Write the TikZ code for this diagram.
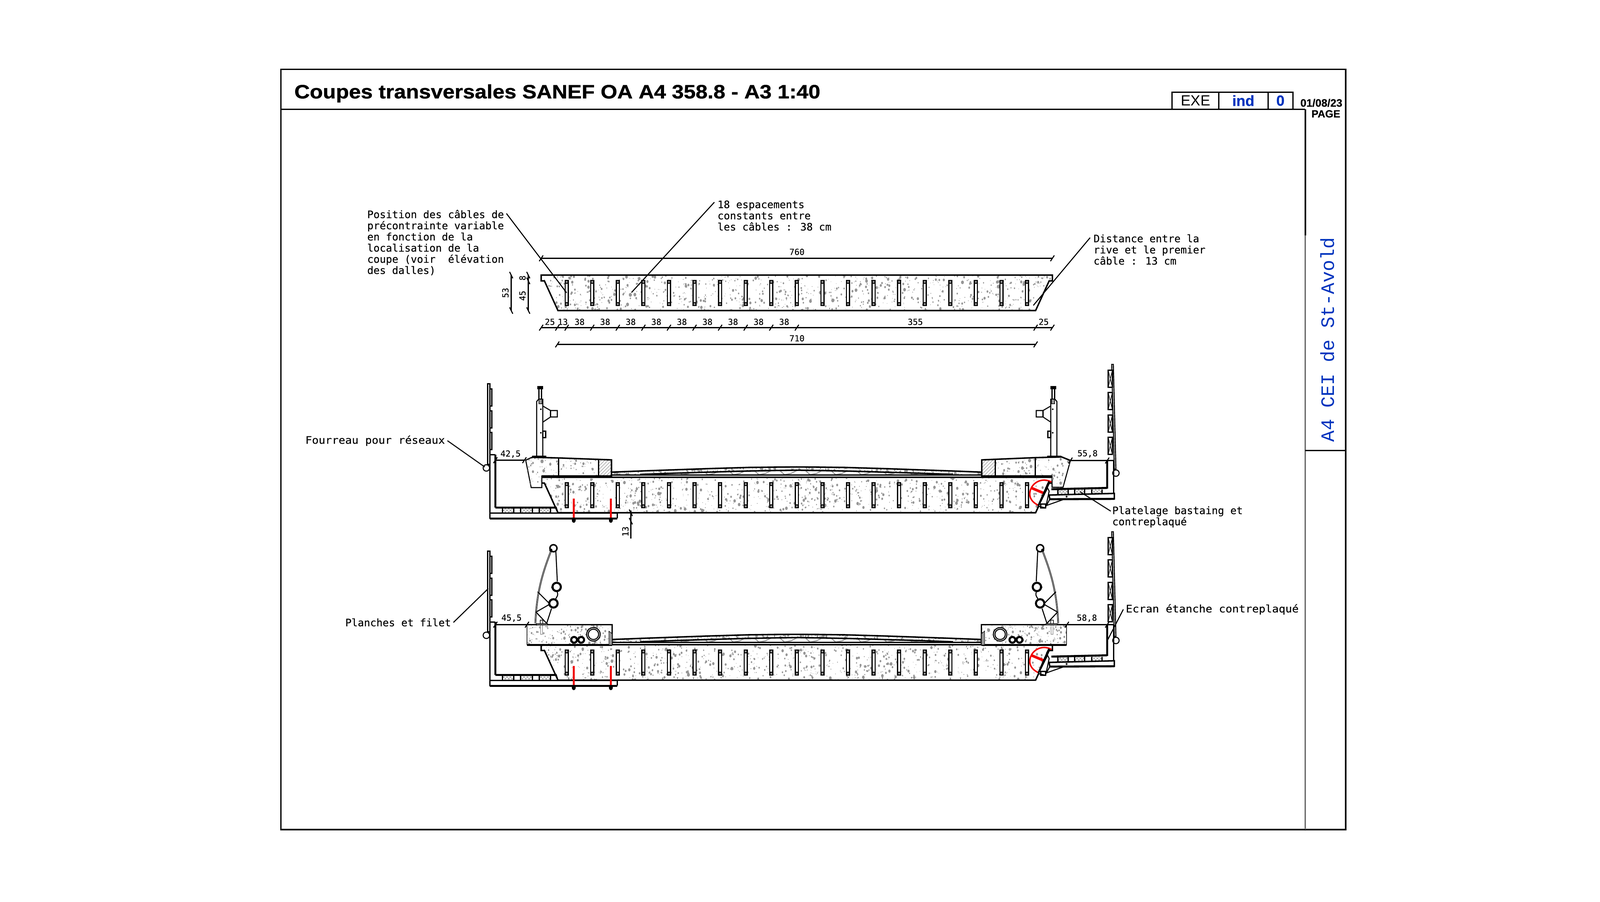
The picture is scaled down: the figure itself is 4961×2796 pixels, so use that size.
\documentclass[tikz,border=0pt]{standalone}
\usepackage{fontspec}
\setmainfont[BoldFeatures={FakeBold=0.8}]{Liberation Sans}
\newfontfamily\titrefont[BoldFeatures={FakeStretch=1.108,FakeBold=1.2}]{Liberation Sans}
\newfontfamily\cadfont[FakeBold=0.5]{DejaVu Sans Mono}
\newfontfamily\cadlarge[FakeStretch=1.07,FakeBold=0.5]{DejaVu Sans Mono}
\newfontfamily\cadfin{Liberation Mono}
\usetikzlibrary{patterns}
\definecolor{bleu}{RGB}{0,51,190}
\definecolor{beton}{RGB}{150,150,150}
\definecolor{rouge}{RGB}{240,0,0}
\tikzset{
	fin/.style={line width=0.5pt},
	trait/.style={line width=0.9pt},
	epais/.style={line width=1.3pt},
	cadre/.style={line width=1.4pt},
	tresepais/.style={line width=1.8pt},
	etiq/.style={font=\cadfont\fontsize{9.1}{9.85}\selectfont, inner sep=0pt, align=left, anchor=north west},
	etiqlarge/.style={etiq, font=\cadlarge\fontsize{9.1}{9.85}\selectfont},
	cotelbl/.style={font=\cadfont\fontsize{7.4}{8}\selectfont, inner sep=0pt},
	hach/.style={pattern=north east lines, pattern color=beton},
	croix/.style={pattern=crosshatch, pattern color=beton},
	rougebar/.style={rouge, line width=1.6pt}
}
% points de beton dans un rectangle
\newcommand{\beton}[5]{
	\foreach \k in {1,...,#5} {
		\pgfmathsetmacro\bx{#1+rnd*(#3-#1)}
		\pgfmathsetmacro\by{#2+rnd*(#4-#2)}
		\pgfmathsetmacro\br{0.8+4*rnd*rnd}
		\fill[beton] (\bx,\by) ellipse[x radius=\br, y radius=\br*1.3];
	}
}
\newcommand{\tic}[1]{\draw[trait] (#1) ++(-6,9) -- ++(12,-18);}
\newcommand{\ticv}[1]{\draw[trait] (#1) ++(-5,-10) -- ++(10,20);}
\newcommand{\formedalle}{(1678,853) -- (3263,853) -- (3263,871) -- (3253,871) -- (3211,963) -- (1730,963) -- (1688,871) -- (1678,871) -- cycle}
\newcommand{\dalle}[1]{
	\begin{scope}[shift={(0,#1)}]
		\begin{scope}
			\clip \formedalle;
			\beton{1678}{853}{3263}{963}{1000}
		\end{scope}
		\draw[epais] \formedalle;
		\foreach \i in {0,...,18} {
			\pgfmathsetmacro\xc{1757+79.3*\i}
			\fill (\xc-6.5,868) rectangle (\xc+6.5,949);
			\fill[white] (\xc-3,880) rectangle (\xc+3,937);
			\fill[beton] (\xc,874) circle[radius=3.2];
			\fill[beton] (\xc,943) circle[radius=3.2];
		}
	\end{scope}
}
\newcommand{\hautchaussee}{(1896,1464) -- (2000,1460) -- (2100,1456.5) -- (2200,1453) -- (2320,1449.5) -- (2400,1448.5) -- (2470,1448) -- (2540,1448.5) -- (2620,1449.5) -- (2740,1453) -- (2840,1456.5) -- (2940,1460) -- (3044,1464)}
\newcommand{\baschaussee}{(2955,1471) -- (2840,1467) -- (2740,1464) -- (2640,1461) -- (2540,1459) -- (2470,1458) -- (2400,1459) -- (2300,1461) -- (2200,1464) -- (2100,1467) -- (1985,1471)}
\newcommand{\chaussee}{
	\begin{scope}
		\clip \hautchaussee -- (3044,1473) -- \baschaussee -- (1896,1473) -- cycle;
		\beton{1896}{1448}{3044}{1473}{560}
	\end{scope}
	\begin{scope}
		\clip \baschaussee -- cycle;
		\foreach \i in {0,...,11} {
			\pgfmathsetmacro\xc{2020+79.3*\i}
			\draw[beton,trait] (\xc,1458) -- (\xc+16,1472) -- (\xc+36,1468) -- (\xc+56,1458);
		}
	\end{scope}
	\draw[epais] \hautchaussee;
	\draw[epais] \baschaussee;
	\draw[epais] (1732,1473) -- (3210,1473);
}
\newcommand{\montant}{
	\draw[trait,fill=white] (1664,1416) -- (1664,1245) -- (1670,1238) -- (1683,1238) -- (1683,1416);
	\draw[trait] (1671,1205) rectangle (1679,1238);
	\fill (1666,1197) rectangle (1684,1207);
	\draw[fin,fill=beton] (1671,1238) rectangle (1681,1252);
	\draw[trait] (1683,1259) -- (1707,1273) -- (1728,1273) -- (1728,1293) -- (1707,1293) -- (1683,1309);
	\draw[trait] (1707,1273) -- (1707,1293);
	\fill (1677,1269) circle[radius=2.5];
	\fill (1677,1342) circle[radius=2.5];
	\draw[trait] (1683,1337) rectangle (1692,1357);
	\fill (1650,1413) rectangle (1694,1419);
}
\newcommand{\filet}{
	\draw[double, line width=0.5pt, double distance=0.4pt] (1709,1707) .. controls (1685,1770) and (1664,1830) .. (1660,1933);
	\draw[trait] (1723,1700) -- (1728,1803);
	\draw[trait] (1728,1836) .. controls (1730,1845) .. (1723,1857);
	\draw[trait] (1710,1887) -- (1695,1933);
	\draw[trait] (1667,1835) -- (1702,1870);
	\draw[trait] (1662,1898) -- (1702,1875);
	\draw[trait] (1662,1898) -- (1695,1933);
	\draw[epais,fill=white] (1716,1700) circle[radius=11];
	\draw[tresepais,fill=white] (1726,1820) circle[radius=13];
	\draw[tresepais,fill=white] (1716,1871) circle[radius=13];
	\fill (1708,1706) circle[radius=5];
	\fill (1713,1821) circle[radius=4];
}
\newcommand{\longrine}{
	\fill[white] (1634,1937) rectangle (1898,2000);
	\begin{scope}
		\clip (1634,1937) rectangle (1898,2000);
		\beton{1634}{1937}{1898}{2000}{170}
	\end{scope}
	\draw[fin] (1634,1937) -- (1634,2000);
	\draw[epais] (1634,1937) -- (1898,1937) -- (1898,2000);
	\draw[tresepais] (1634,2000) -- (1898,2000);
	\draw[trait,fill=white] (1840,1967) circle[radius=21];
	\draw[trait] (1840,1967) circle[radius=16];
	\draw[tresepais,fill=white] (1780,1984) circle[radius=9];
	\draw[tresepais,fill=white] (1802,1984) circle[radius=9];
	\draw[fill=beton,line width=0.4pt] (1888,1957) -- (1898,1965) -- (1898,2000) -- (1888,2000) -- cycle;
	\draw[fin,beton,fill=white] (1676,1937) rectangle (1682,1967);
	\draw[fin] (1675,1923) rectangle (1683,1937);
	\draw[fin,fill=beton] (1663,1934) rectangle (1698,1938);
}
\newcommand{\bordgauche}{
	\draw[trait,fill=white] (1512,1190) rectangle (1519,1440);
	\foreach \ya in {1206,1274,1341} {
		\draw[trait,fill=white] (1519,\ya) rectangle (1525,\ya+53);
	}
	\draw[trait,fill=white] (1508,1451) circle[radius=10];
	\draw[trait] (1519,1410) -- (1536,1410);
	\draw[trait] (1519,1440) -- (1519,1609);
	\draw[tresepais] (1536,1410) -- (1536,1574);
	\foreach \xa/\xb in {1558/1593,1614/1651,1672/1707} {
		\draw[croix,draw=none] (\xa,1575) rectangle (\xb,1589);
		\draw[trait] (\xa,1574) -- (\xa,1590);
		\draw[trait] (\xb,1574) -- (\xb,1590);
	}
	\draw[tresepais] (1536,1574) -- (1726,1574);
	\draw[trait] (1725,1574) -- (1730,1590);
	\draw[epais] (1519,1591) -- (1914,1591);
	\draw[trait] (1914,1591) -- (1914,1607);
	\draw[tresepais] (1519,1608) -- (1914,1608);
	\draw[rougebar] (1779,1546) -- (1779,1605);
	\draw[rougebar] (1894,1546) -- (1894,1605);
	\fill (1779,1613) ellipse[x radius=6, y radius=8];
	\fill (1894,1613) ellipse[x radius=6, y radius=8];
}
\newcommand{\borddroit}[1]{
	\draw[trait,fill=white] (3447,1130) -- (3452,1130) -- (3460,1455) -- (3455,1455) -- cycle;
	\foreach \ya in {1148,1217,1287,1356} {
		\draw[trait,fill=white] (3436,\ya) rectangle (3449,\ya+53);
		\draw[fin] (3436,\ya) -- (3449,\ya+53) (3449,\ya) -- (3436,\ya+53);
	}
	\draw[trait,fill=white] (3460,1467) circle[radius=10];
	\draw[trait] (3433,#1) -- (3453,#1);
	\draw[trait] (3453,#1) -- (3453,1548);
	\draw[tresepais] (3433,#1) -- (3433,1515);
	\foreach \xa/\xb in {3280/3312,3332/3363,3385/3417} {
		\draw[croix,draw=none] (\xa,1518) rectangle (\xb,1531);
		\draw[trait] (\xa,1518) -- (\xa,1532);
		\draw[trait] (\xb,1518) -- (\xb,1532);
	}
	\draw[tresepais] (3260,1517) -- (3433,1513);
	\draw[epais,fill=white] (3253,1535) -- (3455,1530) -- (3455,1547) -- (3255,1548) -- cycle;
	\draw[tresepais] (3255,1548) -- (3455,1547);
	\fill (3307,1540) circle[radius=3];
	\draw[trait] (3297,1549) -- (3243,1568);
	\draw[trait] (3255,1548) -- (3246,1565);
	\draw[rouge,epais] (3260,1495) .. controls (3232,1478) and (3195,1497) .. (3193,1530) .. controls (3192,1548) and (3205,1560) .. (3220,1567);
	\draw[rougebar,line width=2.3pt] (3198,1513) -- (3238,1530);
	\draw[tresepais] (3253,1493) -- (3220,1568);
	\draw[trait,fill=white] (3248,1513) -- (3220,1570) -- (3242,1575) -- (3253,1523) -- cycle;
	\draw[trait] (3227,1563) rectangle (3242,1575);
}

\begin{document}
\begin{tikzpicture}[x=0.01cm,y=-0.01cm]
	\useasboundingbox (0,0) rectangle (4961,2796);
	\fill[white] (0,0) rectangle (4961,2796);

	% cadre et cartouche
	\draw[cadre] (871,215) rectangle (4172,2572);
	\draw[cadre] (871,339) -- (4047,339);
	\draw[cadre] (4047,339) -- (4047,730);
	\draw[gray!80!black,trait] (4047,730) -- (4047,2572);
	\draw[trait] (4047,1397) -- (4172,1397);
	\draw[trait] (3634,339) -- (3634,286) -- (4009,286) -- (4009,339);
	\draw[trait] (3779,286) -- (3779,339);
	\draw[trait] (3932,286) -- (3932,339);
	\node[font=\titrefont\bfseries\fontsize{17}{20}\selectfont, anchor=base west, inner sep=0pt] (titre) at (912,305) {Coupes transversales SANEF OA A4 358.8 - A3 1:40};
	\node[font=\fontsize{13}{15}\selectfont, inner sep=0pt] (exe) at (3707,312) {EXE};
	\node[font=\bfseries\fontsize{13}{15}\selectfont, bleu, inner sep=0pt] (ind) at (3855,312) {ind};
	\node[font=\bfseries\fontsize{13}{15}\selectfont, bleu, inner sep=0pt] (indice) at (3970,312) {0};
	\node[font=\bfseries\fontsize{9.5}{11}\selectfont, inner sep=0pt] (date) at (4097,319) {01/08/23};
	\node[font=\bfseries\fontsize{9.2}{11}\selectfont, inner sep=0pt] (page) at (4111,353) {PAGE};
	\node[font=\cadfin\fontsize{16.7}{20}\selectfont, bleu, rotate=90, inner sep=0pt] (ouvrage) at (4116,1053) {A4 CEI de St-Avold};

	% coupe du haut
	\dalle{0}
	\coordinate (c760g) at (1678,801);
	\coordinate (c760d) at (3263,801);
	\draw[trait] (c760g) -- (c760d);
	\tic{c760g} \tic{c760d}
	\node[cotelbl] (l760) at (2471,781) {760};
	\coordinate (c710g) at (1728,1068);
	\coordinate (c710d) at (3211,1068);
	\draw[trait] (c710g) -- (c710d);
	\tic{c710g} \tic{c710d}
	\node[cotelbl] (l710) at (2471,1049) {710};
	\coordinate (cha) at (1678,1016);
	\coordinate (chb) at (3263,1016);
	\draw[trait] (cha) -- (chb);
	\foreach \xt in {1678,1728,3211,3263} {
		\coordinate (t) at (\xt,1016);
		\tic{t}
	}
	\foreach \i in {0,...,9} {
		\coordinate (t) at ({1757+79.3*\i},1016);
		\tic{t}
	}
	\foreach \i in {0,...,8} {
		\node[cotelbl] (l38\i) at ({1797+79.3*\i},998) {38};
	}
	\node[cotelbl] (l25a) at (1705,998) {25};
	\node[cotelbl] (l13a) at (1745,998) {13};
	\node[cotelbl] (l355) at (2838,998) {355};
	\node[cotelbl] (l25b) at (3236,998) {25};
	\coordinate (v53a) at (1585,853);
	\coordinate (v53b) at (1585,963);
	\draw[trait] (v53a) -- (v53b);
	\ticv{v53a} \ticv{v53b}
	\coordinate (v45a) at (1638,853);
	\coordinate (v45m) at (1638,871);
	\coordinate (v45b) at (1638,963);
	\draw[trait] (v45a) -- (v45b);
	\ticv{v45a} \ticv{v45m} \ticv{v45b}
	\node[cotelbl, rotate=90] (l53) at (1567,908) {53};
	\node[cotelbl, rotate=90] (l45) at (1620,917) {45};
	\node[cotelbl, rotate=90] (l8) at (1620,862) {8};

	\node[etiq] (nposition) at (1138,650) {Position des câbles de\\précontrainte variable\\en fonction de la\\localisation de la\\coupe (voir~~élévation\\des dalles)};
	\node[etiq] (nespace) at (2224,621) {18 espacements\\constants entre\\les câbles : 38 cm};
	\node[etiq] (ndistance) at (3390,726) {Distance entre la\\rive et le premier\\câble : 13 cm};
	\coordinate (pposition) at (1757,908);
	\coordinate (pespace) at (1958,907);
	\coordinate (pdistance) at (3204,947);
	\draw[trait] ([shift={(7,12)}]nposition.north east) -- (pposition);
	\draw[trait] ([shift={(-9,6)}]nespace.north west) -- (pespace);
	\draw[trait] ([shift={(-10,11)}]ndistance.north west) -- (pdistance);

	% coupe du milieu
	\dalle{627}
	\chaussee
	\filldraw[trait,fill=white] (1630,1427) -- (1649,1418) -- (1732,1420) -- (1896,1426) -- (1896,1476) -- (1680,1476) -- (1680,1512) -- (1647,1512) -- cycle;
	\begin{scope}
		\clip (1630,1427) -- (1649,1418) -- (1732,1420) -- (1896,1426) -- (1896,1476) -- (1680,1476) -- (1680,1512) -- (1647,1512) -- cycle;
		\beton{1630}{1418}{1896}{1512}{190}
		\fill[white] (1856,1424) rectangle (1896,1476);
		\fill[hach] (1856,1424) rectangle (1896,1476);
	\end{scope}
	\draw[epais] (1649,1418) -- (1732,1420) -- (1896,1426) -- (1896,1476) -- (1680,1476);
	\draw[trait] (1630,1427) -- (1649,1418);
	\draw[trait] (1732,1420) -- (1732,1476);
	\draw[trait] (1856,1424) -- (1856,1476);
	\filldraw[trait,fill=white] (3319,1428) -- (3292,1417) -- (3211,1419) -- (3044,1426) -- (3044,1476) -- (3262,1476) -- (3262,1511) -- (3296,1511) -- cycle;
	\begin{scope}
		\clip (3319,1428) -- (3292,1417) -- (3211,1419) -- (3044,1426) -- (3044,1476) -- (3262,1476) -- (3262,1511) -- (3296,1511) -- cycle;
		\beton{3044}{1417}{3319}{1511}{190}
		\fill[white] (3044,1424) rectangle (3086,1476);
		\fill[hach] (3044,1424) rectangle (3086,1476);
	\end{scope}
	\draw[epais] (3319,1428) -- (3292,1417) -- (3211,1419) -- (3044,1426) -- (3044,1476) -- (3262,1476);
	\draw[trait] (3210,1419) -- (3210,1476);
	\draw[trait] (3086,1424) -- (3086,1476);
	\montant
	\begin{scope}[shift={(4941,0)},xscale=-1]
		\montant
	\end{scope}
	\bordgauche
	\borddroit{1428}
	\coordinate (c425g) at (1536,1427);
	\coordinate (c425d) at (1626,1427);
	\draw[trait] (c425g) -- (c425d);
	\tic{c425g} \tic{c425d}
	\node[cotelbl] (l425) at (1583,1408) {42,5};
	\coordinate (c558g) at (3319,1428);
	\coordinate (c558d) at (3433,1428);
	\draw[trait] (c558g) -- (c558d);
	\tic{c558g} \tic{c558d}
	\node[cotelbl] (l558) at (3372,1407) {55,8};
	\coordinate (v13a) at (1956,1583);
	\coordinate (v13b) at (1956,1670);
	\draw[trait] (v13a) -- (v13b);
	\coordinate (t) at (1956,1590); \ticv{t}
	\coordinate (t) at (1956,1616); \ticv{t}
	\node[cotelbl, rotate=90] (l13b) at (1939,1648) {13};
	\node[etiqlarge, anchor=base west] (nfourreau) at (946,1376) {Fourreau pour réseaux};
	\coordinate (pfourreau) at (1503,1448);
	\draw[trait] ([xshift=2pt]nfourreau.east) -- (pfourreau);
	\node[etiq] (nplatelage) at (3448,1569) {Platelage bastaing et\\contreplaqué};
	\coordinate (pplatelage) at (3349,1525);
	\draw[trait] ([shift={(-4,16)}]nplatelage.north west) -- (pplatelage);

	% coupe du bas
	\dalle{1146}
	\begin{scope}[shift={(0,519)}]
		\chaussee
		\bordgauche
		\borddroit{1418}
	\end{scope}
	\longrine
	\filet
	\begin{scope}[shift={(4941,0)},xscale=-1]
		\longrine
		\filet
	\end{scope}
	\coordinate (c455g) at (1536,1937);
	\coordinate (c455d) at (1634,1937);
	\draw[trait] (c455g) -- (c455d);
	\tic{c455g} \tic{c455d}
	\node[cotelbl] (l455) at (1586,1917) {45,5};
	\coordinate (c588g) at (3308,1937);
	\coordinate (c588d) at (3433,1937);
	\draw[trait] (c588g) -- (c588d);
	\tic{c588g} \tic{c588d}
	\node[cotelbl] (l588) at (3370,1917) {58,8};
	\node[etiq, anchor=base west] (nplanches) at (1070,1942) {Planches et filet};
	\coordinate (pplanches) at (1514,1825);
	\draw[trait] ([xshift=2pt]nplanches.east) -- (pplanches);
	\node[etiqlarge, anchor=base west] (necran) at (3490,1899) {Ecran étanche contreplaqué};
	\coordinate (pecran) at (3434,1985);
	\draw[trait] ([xshift=-2pt]necran.west) -- (pecran);
\end{tikzpicture}
\end{document}
